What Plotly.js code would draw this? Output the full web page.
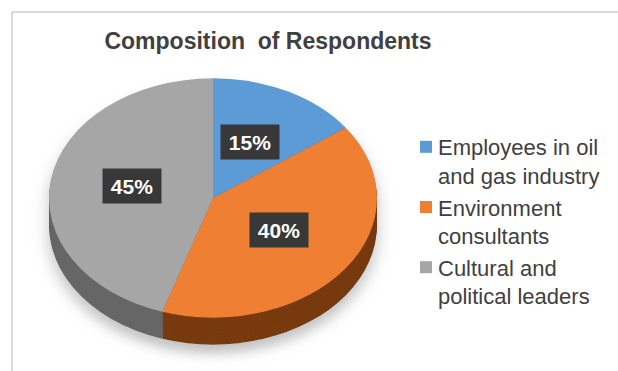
<!DOCTYPE html>
<html>
<head>
<meta charset="utf-8">
<script src="https://cdn.plot.ly/plotly-3.0.1.min.js"></script>
<style>
  html, body { margin: 0; padding: 0; background: #fff; }
  #chart { width: 618px; height: 371px; }
</style>
</head>
<body>
<div id="chart"></div>
<script>
// ---- data ----
const categories = ['Employees in oil<br>and gas industry', 'Environment<br>consultants', 'Cultural and<br>political leaders'];
const values = [15, 40, 45];
const titleText = 'Composition\u00a0 of Respondents';

// ---- styles ----
const topColors = ['#5b9bd5', '#ef7f33', '#a6a6a6'];
const sideColors = ['#3d6a95', '#773a10', '#666666'];

const W = 618, H = 371;
const R = 164;          // pie radius (px, horizontal)
const CX = 213;         // screen centre x
const CY = 198;         // screen centre y of top face
const S = 0.73;         // vertical squash of the tilted pie
const PRE_CY = 170;     // centre y before squash
const DEPTH = 37;       // depth before squash
const T = CY - S * PRE_CY;

function domainFor(offset) {
  const top = PRE_CY - R + offset, bottom = PRE_CY + R + offset;
  return { x: [(CX - R) / W, (CX + R) / W], y: [1 - bottom / H, 1 - top / H] };
}

function pieTrace(colors, offset, legend) {
  return {
    type: 'pie',
    labels: categories,
    values: values,
    sort: false,
    direction: 'clockwise',
    rotation: 0,
    textinfo: 'none',
    hoverinfo: 'label+percent',
    showlegend: legend,
    marker: { colors: colors, line: { width: 0 } },
    domain: domainFor(offset)
  };
}

const data = [];
const layers = 14;
for (let k = layers; k >= 1; k--) {
  data.push(pieTrace(sideColors, DEPTH * k / layers, false));
}
data.push(pieTrace(topColors, 0, true));

// percentage labels placed at each slice's mid angle
const total = values.reduce((a, b) => a + b, 0);
const annotations = [];
let acc = 0;
values.forEach((v, i) => {
  const mid = (acc + v / 2) / total * 2 * Math.PI;
  acc += v;
  const px = CX + R * 0.5 * Math.sin(mid);
  const py = CY - 3 - R * S * 0.5 * Math.cos(mid);
  annotations.push({
    xref: 'paper', yref: 'paper',
    x: px / W, y: 1 - py / H,
    xanchor: 'center', yanchor: 'middle',
    text: '<b>' + Math.round(v / total * 100) + '%</b>',
    showarrow: false,
    font: { family: 'Liberation Sans, Arial, sans-serif', size: 21, color: '#ffffff' },
    bgcolor: '#383838',
    borderpad: 3,
    width: 52, height: 28
  });
});

const layout = {
  width: W, height: H,
  margin: { l: 0, r: 0, t: 0, b: 0 },
  paper_bgcolor: '#ffffff',
  title: {
    text: '<b>' + titleText + '</b>',
    font: { family: 'Liberation Sans, Arial, sans-serif', size: 23, color: '#404040' },
    x: 268 / W, xanchor: 'center', xref: 'paper',
    y: 1 - 41 / H, yanchor: 'middle', yref: 'paper'
  },
  showlegend: true,
  legend: {
    x: 398 / W, xanchor: 'left',
    y: 1 - 126 / H, yanchor: 'top',
    valign: 'top',
    font: { family: 'Liberation Sans, Arial, sans-serif', size: 22, color: '#404040' },
    bgcolor: 'rgba(0,0,0,0)',
    tracegroupgap: 0
  },
  annotations: annotations,
  shapes: [
    { type: 'line', xref: 'paper', yref: 'paper', x0: 12 / W, x1: 1, y0: 1 - 12 / H, y1: 1 - 12 / H, line: { color: '#cccccc', width: 1.5 } },
    { type: 'line', xref: 'paper', yref: 'paper', x0: 12 / W, x1: 12 / W, y0: 0, y1: 1 - 12 / H, line: { color: '#cccccc', width: 1.5 } }
  ]
};

Plotly.newPlot('chart', data, layout, { staticPlot: true }).then(() => {
  const svg = document.querySelector('#chart .main-svg');
  const pl = document.querySelector('#chart .pielayer');
  if (pl) pl.setAttribute('transform', 'translate(0,' + T + ') scale(1,' + S + ')');
  // soft drop shadow under the pie
  const ns = 'http://www.w3.org/2000/svg';
  const defs = document.createElementNS(ns, 'defs');
  const f = document.createElementNS(ns, 'filter');
  f.setAttribute('id', 'pieShadow');
  f.setAttribute('filterUnits', 'userSpaceOnUse');
  f.setAttribute('x', '0'); f.setAttribute('y', '-100');
  f.setAttribute('width', String(W)); f.setAttribute('height', '700');
  const blur = document.createElementNS(ns, 'feGaussianBlur');
  blur.setAttribute('in', 'SourceAlpha'); blur.setAttribute('stdDeviation', '8'); blur.setAttribute('result', 'b');
  const off = document.createElementNS(ns, 'feOffset');
  off.setAttribute('in', 'b'); off.setAttribute('dx', '0'); off.setAttribute('dy', '12'); off.setAttribute('result', 'o');
  const flood = document.createElementNS(ns, 'feFlood');
  flood.setAttribute('flood-color', '#9a9a9a'); flood.setAttribute('flood-opacity', '0.6'); flood.setAttribute('result', 'c');
  const comp = document.createElementNS(ns, 'feComposite');
  comp.setAttribute('in', 'c'); comp.setAttribute('in2', 'o'); comp.setAttribute('operator', 'in'); comp.setAttribute('result', 's');
  const merge = document.createElementNS(ns, 'feMerge');
  const m1 = document.createElementNS(ns, 'feMergeNode'); m1.setAttribute('in', 's');
  const m2 = document.createElementNS(ns, 'feMergeNode'); m2.setAttribute('in', 'SourceGraphic');
  merge.appendChild(m1); merge.appendChild(m2);
  [blur, off, flood, comp, merge].forEach(n => f.appendChild(n));
  defs.appendChild(f); svg.insertBefore(defs, svg.firstChild);
  if (pl) pl.setAttribute('filter', 'url(#pieShadow)');
  // nudge legend squares closer to their text
  document.querySelectorAll('#chart .legend .legendpoints').forEach(el => {
    const t = el.getAttribute('transform') || '';
    el.setAttribute('transform', 'translate(8,0) ' + t);
  });
});
</script>
</body>
</html>
